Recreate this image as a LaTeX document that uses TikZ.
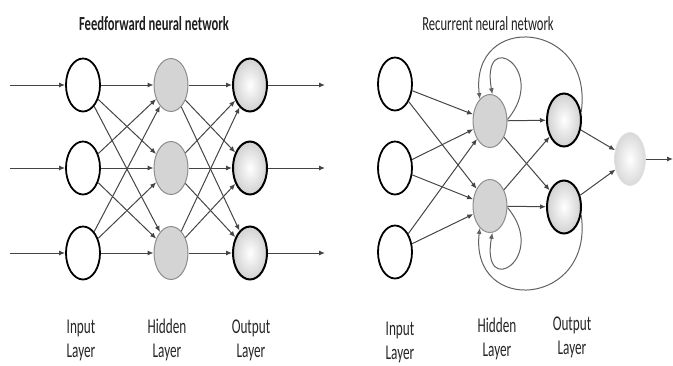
\documentclass[tikz,border=0pt]{standalone}
\usepackage{fontspec}
\setmainfont{Carlito}[FakeStretch=0.63]
\usetikzlibrary{shapes.geometric,arrows.meta}
\definecolor{linec}{HTML}{454545}
\tikzset{
  inputnode/.style={ellipse,draw=black,line width=1.8pt,fill=white,minimum width=34pt,minimum height=53pt,inner sep=0pt},
  hiddennode/.style={ellipse,draw=black!45,line width=1pt,fill=black!17,minimum width=34pt,minimum height=53pt,inner sep=0pt},
  outputnode/.style={ellipse,draw=black,line width=2pt,inner color=white,outer color=black!18,minimum width=34pt,minimum height=53pt,inner sep=0pt},
  finalnode/.style={ellipse,draw=black!12,line width=0.6pt,inner color=white,outer color=black!15,minimum width=31pt,minimum height=53pt,inner sep=0pt},
  conn/.style={draw=linec,line width=1pt,-{Latex[length=6pt,width=5pt]}},
  loopconn/.style={draw=linec!85,line width=1pt,-{Latex[length=6pt,width=5pt]}},
  titletext/.style={font=\fontsize{20}{22}\selectfont,text=black!88,anchor=base,inner sep=0pt},
  layertext/.style={font=\fontsize{21}{24}\selectfont,align=center,text=black!85,inner sep=1pt}
}
\begin{document}
\begin{tikzpicture}[x=1pt,y=-1pt]
\useasboundingbox (0,0) rectangle (673,365);
% ---------- Feedforward ----------
\node[titletext,font=\fontsize{20}{22}\selectfont\bfseries] (fft) at (154,30) {Feedforward neural network};
\foreach \i/\y in {1/85,2/168,3/253}{
  \node[inputnode] (fi\i) at (83,\y) {};
  \node[hiddennode] (fh\i) at (171,\y) {};
  \node[outputnode] (fo\i) at (250,\y) {};
  \coordinate (fs\i) at (10,\y);
  \coordinate (fe\i) at (325,\y);
}
\foreach \i in {1,2,3}{
  \draw[conn] (fs\i) -- (fi\i);
  \draw[conn] (fo\i) -- (fe\i);
  \foreach \j in {1,2,3}{
    \draw[conn] (fi\i) -- (fh\j);
    \draw[conn] (fh\i) -- (fo\j);
  }
}
\node[layertext] (fl1) at (81,340) {Input\\Layer};
\node[layertext] (fl2) at (167,340) {Hidden\\Layer};
\node[layertext] (fl3) at (251,340) {Output\\Layer};
% ---------- Recurrent ----------
\node[titletext] (rnt) at (488,30) {Recurrent neural network};
\foreach \i/\y in {1/84,2/168,3/252}{
  \node[inputnode] (ri\i) at (395,\y) {};
}
\node[hiddennode] (rh1) at (490,121) {};
\node[hiddennode] (rh2) at (490,206) {};
\node[outputnode] (ro1) at (564,120) {};
\node[outputnode] (ro2) at (564,207) {};
\node[finalnode] (rf) at (630,159) {};
\coordinate (rend) at (673,159);
\foreach \i in {1,2,3}{
  \foreach \j in {1,2}{
    \draw[conn] (ri\i) -- (rh\j);
  }
}
\foreach \i in {1,2}{
  \foreach \j in {1,2}{
    \draw[conn] (rh\i) -- (ro\j);
  }
  \draw[conn] (ro\i) -- (rf);
}
\draw[conn] (rf) -- (rend);
% recurrent loops
\draw[loopconn] (rh1.5) .. controls +(42,-50) and +(-12,-68) .. (rh1.85);
\draw[loopconn] (ro1.25) .. controls +(13,-92) and +(-10,-88) .. (rh1.115);
\draw[loopconn] (rh2.-5) .. controls +(42,50) and +(-12,68) .. (rh2.-85);
\draw[loopconn] (ro2.-25) .. controls +(13,92) and +(-10,88) .. (rh2.-115);
\node[layertext] (rl1) at (400,342) {Input\\Layer};
\node[layertext] (rl2) at (497,339) {Hidden\\Layer};
\node[layertext] (rl3) at (572,337) {Output\\Layer};
\end{tikzpicture}
\end{document}
